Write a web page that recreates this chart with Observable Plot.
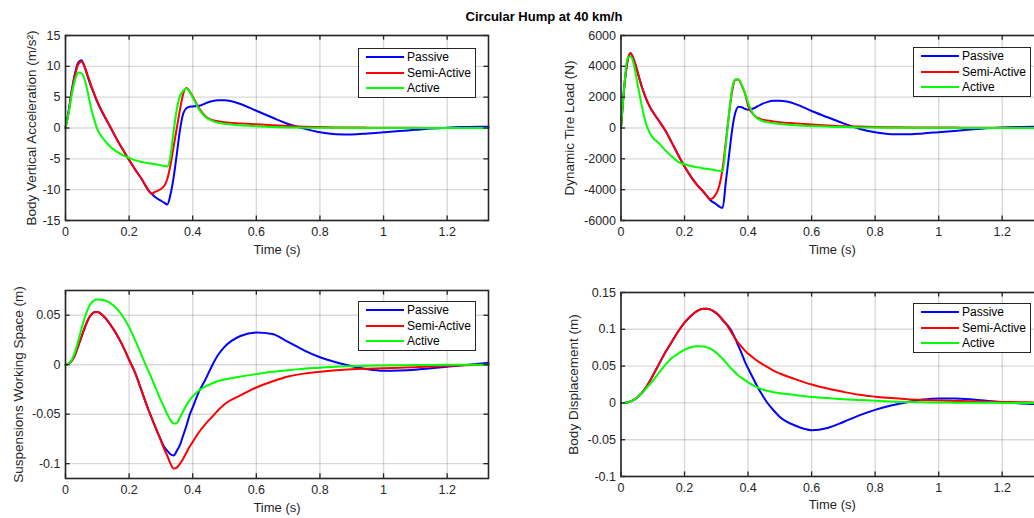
<!DOCTYPE html>
<html>
<head>
<meta charset="utf-8">
<script src="https://cdn.jsdelivr.net/npm/d3@7"></script>
<script src="https://cdn.jsdelivr.net/npm/@observablehq/plot@0.6"></script>
<style>
html, body { margin: 0; padding: 0; background: #fff; overflow: hidden; width: 1034px; height: 518px; }
#page { position: relative; width: 1034px; height: 518px; font-family: "Liberation Sans", Arial, Helvetica, sans-serif; overflow: hidden; }
.panel { position: absolute; }
.panel svg { display: block; overflow: visible; max-width: none !important; }
.title { position: absolute; left: 394px; width: 300px; top: 9px; text-align: center; font-weight: bold; font-size: 13px; line-height: 16px; color: #000; }
.legend { position: absolute; background: #fff; border: 1.5px solid #262626; box-sizing: border-box; width: 118px; height: 50px; padding-top: 0.5px; }
.legend .row { display: flex; align-items: center; height: 15.5px; font-size: 12px; color: #000; white-space: nowrap; }
.legend .swatch { display: inline-block; width: 38px; height: 2px; margin-left: 7px; margin-right: 3px; }
</style>
</head>
<body>
<div id="page">
  <div class="title">Circular Hump at 40 km/h</div>
</div>
<script>
// ---------------- data ----------------
const seriesNames = ["Passive", "Semi-Active", "Active"];
const seriesColors = ["#0000ff", "#ff0000", "#00ff00"];

const xTicks = [0, 0.2, 0.4, 0.6, 0.8, 1, 1.2];
const xDomain = [0, 1.33];

const time = [0, 0.01, 0.02, 0.03, 0.04, 0.05, 0.06, 0.07, 0.08, 0.09, 0.10,
  0.12, 0.14, 0.16, 0.18, 0.20, 0.22, 0.24, 0.26, 0.27, 0.28,
  0.30, 0.31, 0.32, 0.33, 0.34, 0.35, 0.36, 0.37, 0.38, 0.39, 0.40,
  0.42, 0.44, 0.46, 0.48, 0.50,
  0.55, 0.60, 0.65, 0.70, 0.75, 0.80, 0.85, 0.90, 0.95, 1.00, 1.05, 1.10, 1.15, 1.20, 1.25, 1.30, 1.33];

// Body vertical acceleration (m/s^2)
const accPassive = [0, 2.8, 6.2, 8.9, 10.6, 11.0, 9.9, 8.3, 6.8, 5.5, 4.2,
  2.1, 0.2, -1.7, -3.5, -5.2, -6.8, -8.3, -10.1, -10.6, -11.1,
  -11.8, -12.1, -12.4, -10.8, -8.0, -4.2, -0.3, 2.3, 3.2, 3.45, 3.5,
  3.6, 4.0, 4.35, 4.5, 4.5,
  3.9, 2.8, 1.7, 0.65, -0.1, -0.7, -1.0, -1.05, -0.9, -0.7, -0.5, -0.3, -0.1, 0.05, 0.15, 0.2, 0.2];
const accSemi = [0, 2.6, 6.0, 8.6, 10.3, 10.8, 10.0, 8.5, 7.0, 5.6, 4.3,
  2.2, 0.3, -1.7, -3.5, -5.2, -6.8, -8.3, -10.0, -10.7, -10.4,
  -9.9, -9.4, -8.3, -6.0, -3.0, 0.0, 3.0, 5.5, 6.5, 6.0, 5.1,
  3.2, 1.9, 1.3, 1.1, 0.95,
  0.75, 0.6, 0.45, 0.32, 0.22, 0.15, 0.1, 0.08, 0.06, 0.05, 0.04, 0.03, 0.02, 0.02, 0.01, 0.01, 0.01];
const accActive = [0, 2.5, 5.5, 7.8, 9.0, 8.9, 7.9, 5.8, 3.3, 1.4, -0.2,
  -1.8, -3.0, -3.8, -4.4, -4.85, -5.25, -5.5, -5.7, -5.75, -5.85,
  -6.05, -6.15, -6.25, -4.6, -0.5, 3.0, 5.2, 6.0, 6.4, 5.9, 5.0,
  3.0, 1.8, 1.2, 0.85, 0.7,
  0.45, 0.3, 0.18, 0.1, 0.06, 0.04, 0.03, 0.02, 0.01, 0.01, 0, 0, 0, 0, 0, 0, 0];

// Dynamic tire load (N)
const tirePassive = [0, 2600, 4300, 4850, 4450, 3800, 3050, 2400, 1850, 1400, 1050,
  450, -180, -950, -1750, -2500, -3150, -3700, -4150, -4400, -4650,
  -4950, -5100, -5180, -3500, -1800, -100, 1000, 1380, 1350, 1250, 1180,
  1300, 1520, 1680, 1760, 1760,
  1550, 1100, 700, 300, -50, -280, -400, -410, -350, -270, -190, -100, -20, 30, 60, 80, 80];
const tireSemi = [0, 2600, 4300, 4850, 4450, 3800, 3050, 2400, 1850, 1400, 1050,
  450, -180, -950, -1750, -2500, -3150, -3700, -4150, -4400, -4620,
  -4250, -3700, -2600, -900, 900, 2400, 3130, 3150, 2750, 2250, 1450,
  820, 580, 490, 430, 380,
  300, 230, 170, 120, 90, 70, 50, 40, 35, 30, 25, 20, 15, 12, 10, 8, 8];
const tireActive = [0, 2600, 4500, 4650, 4150, 3100, 2000, 1000, 200, -300, -620,
  -1000, -1450, -1850, -2200, -2350, -2470, -2550, -2620, -2650, -2680,
  -2750, -2790, -2810, -1100, 900, 2600, 3150, 3150, 2800, 2300, 1650,
  800, 500, 380, 310, 260,
  180, 130, 90, 60, 40, 25, 15, 10, 5, 0, 0, 0, 0, 0, 0, 0, 0];

// Suspension working space (m)
const suspPassive = [0, 0.001, 0.004, 0.010, 0.019, 0.028, 0.037, 0.045, 0.050, 0.053, 0.0532,
  0.049, 0.041, 0.031, 0.019, 0.005, -0.009, -0.027, -0.045, -0.053, -0.061,
  -0.076, -0.083, -0.087, -0.0905, -0.0917, -0.087, -0.081, -0.0715, -0.062, -0.051, -0.043,
  -0.027, -0.015, -0.0015, 0.010, 0.018,
  0.029, 0.0325, 0.031, 0.023, 0.0145, 0.0075, 0.0025, -0.0015, -0.0045, -0.006, -0.0058, -0.005, -0.0035, -0.002, -0.0005, 0.001, 0.002];
const suspSemi = [0, 0.001, 0.004, 0.010, 0.019, 0.028, 0.037, 0.045, 0.050, 0.053, 0.0532,
  0.049, 0.041, 0.031, 0.019, 0.005, -0.009, -0.027, -0.045, -0.053, -0.061,
  -0.077, -0.085, -0.092, -0.100, -0.105, -0.104, -0.100, -0.095, -0.089, -0.083, -0.078,
  -0.068, -0.060, -0.053, -0.046, -0.040,
  -0.031, -0.023, -0.017, -0.012, -0.009, -0.007, -0.0055, -0.0045, -0.004, -0.0035, -0.003, -0.0025, -0.0018, -0.0012, -0.0006, -0.0002, 0];
const suspActive = [0, 0.001, 0.005, 0.013, 0.024, 0.036, 0.047, 0.056, 0.062, 0.065, 0.066,
  0.0655, 0.0625, 0.057, 0.049, 0.038, 0.024, 0.009, -0.006, -0.013, -0.021,
  -0.036, -0.043, -0.050, -0.056, -0.0595, -0.059, -0.053, -0.047, -0.041, -0.036, -0.032,
  -0.026, -0.022, -0.019, -0.0165, -0.015,
  -0.012, -0.0095, -0.0072, -0.0055, -0.004, -0.003, -0.002, -0.0015, -0.001, -0.0007, -0.0005, -0.0003, -0.0002, -0.0001, 0, 0, 0];

// Body displacement (m)
const dispPassive = [0, 0, 0.0005, 0.002, 0.004, 0.007, 0.011, 0.016, 0.022, 0.029, 0.037,
  0.053, 0.069, 0.083, 0.097, 0.109, 0.118, 0.125, 0.128, 0.128, 0.127,
  0.122, 0.118, 0.112, 0.108, 0.103, 0.096, 0.087, 0.077, 0.067, 0.056, 0.047,
  0.030, 0.014, 0.0005, -0.010, -0.019,
  -0.031, -0.037, -0.034, -0.026, -0.017, -0.0095, -0.0035, 0.001, 0.0045, 0.006, 0.006, 0.005, 0.003, 0.001, -0.0005, -0.0015, -0.002];
const dispSemi = [0, 0, 0.0005, 0.002, 0.004, 0.007, 0.011, 0.016, 0.022, 0.029, 0.037,
  0.053, 0.069, 0.083, 0.097, 0.109, 0.118, 0.125, 0.128, 0.128, 0.127,
  0.122, 0.118, 0.113, 0.108, 0.101, 0.094, 0.087, 0.081, 0.076, 0.071, 0.067,
  0.060, 0.054, 0.049, 0.044, 0.040,
  0.032, 0.025, 0.0195, 0.015, 0.011, 0.0085, 0.0065, 0.005, 0.004, 0.0033, 0.0027, 0.0022, 0.0017, 0.0013, 0.001, 0.0007, 0.0005];
const dispActive = [0, 0, 0.0005, 0.002, 0.004, 0.007, 0.011, 0.015, 0.020, 0.025, 0.030,
  0.041, 0.052, 0.061, 0.067, 0.072, 0.0755, 0.077, 0.0765, 0.0755, 0.074,
  0.068, 0.064, 0.060, 0.055, 0.050, 0.0455, 0.041, 0.037, 0.034, 0.031, 0.028,
  0.023, 0.019, 0.0165, 0.0145, 0.013,
  0.0105, 0.008, 0.0065, 0.005, 0.004, 0.003, 0.002, 0.0013, 0.0008, 0.0005, 0.0003, 0.0002, 0.0001, 0, 0, 0, 0];

const accTicks = [-15, -10, -5, 0, 5, 10, 15];
const tireTicks = [-6000, -4000, -2000, 0, 2000, 4000, 6000];
const suspTicks = [-0.1, -0.05, 0, 0.05];
const dispTicks = [-0.1, -0.05, 0, 0.05, 0.1, 0.15];

// ---------------- drawing ----------------
const fmt = d => String(d);
const font = '"Liberation Sans", Arial, Helvetica, sans-serif';
const page = document.getElementById("page");

function panel(cfg) {
  const data = cfg.values.flatMap((vals, k) => time.map((t, i) => ({t, v: vals[i], name: seriesNames[k]})));
  const [x0, x1] = xDomain;
  const [y0, y1] = cfg.yDomain;
  const tx = (x1 - x0) * 0.011;
  const ty = (y1 - y0) * 0.025;
  const svg = Plot.plot({
    width: cfg.width, height: cfg.height,
    marginLeft: cfg.mL, marginRight: cfg.mR, marginTop: cfg.mT, marginBottom: cfg.mB,
    style: {fontFamily: font, fontSize: "12.5px", color: "#262626", background: "transparent", overflow: "visible", maxWidth: "none"},
    x: {domain: xDomain},
    y: {domain: cfg.yDomain},
    color: {domain: seriesNames, range: seriesColors},
    marks: [
      Plot.gridX(xTicks, {stroke: "#000", strokeOpacity: 0.15, strokeWidth: 1.4}),
      Plot.gridY(cfg.yTicks, {stroke: "#000", strokeOpacity: 0.15, strokeWidth: 1.4}),
      Plot.line(data, {x: "t", y: "v", z: "name", stroke: "name", strokeWidth: 2, curve: "monotone-x"}),
      Plot.ruleX(xTicks, {x: d => d, y1: y0, y2: y0 + ty, stroke: "#262626", strokeWidth: 1.3}),
      Plot.ruleX(xTicks, {x: d => d, y1: y1, y2: y1 - ty, stroke: "#262626", strokeWidth: 1.3}),
      Plot.ruleY(cfg.yTicks, {y: d => d, x1: x0, x2: x0 + tx, stroke: "#262626", strokeWidth: 1.3}),
      Plot.ruleY(cfg.yTicks, {y: d => d, x1: x1, x2: x1 - tx, stroke: "#262626", strokeWidth: 1.3}),
      Plot.frame({stroke: "#262626", strokeWidth: 1.6}),
      Plot.axisX(xTicks, {tickSize: 0, tickPadding: 7, tickFormat: fmt, label: null, fontSize: 12.5}),
      Plot.axisY(cfg.yTicks, {tickSize: 0, tickPadding: 5, tickFormat: fmt, label: null, fontSize: 12.5}),
      Plot.text([cfg.yLabel], {frameAnchor: "left", textAnchor: "middle", rotate: -90, dx: cfg.yLabelDx, fontSize: 13.5, fill: "#262626"}),
      Plot.text(["Time (s)"], {frameAnchor: "bottom", textAnchor: "middle", dy: cfg.xLabelDy, fontSize: 13, fill: "#262626"})
    ]
  });
  const div = document.createElement("div");
  div.className = "panel";
  div.style.left = cfg.left + "px";
  div.style.top = cfg.top + "px";
  div.style.width = cfg.width + "px";
  div.style.height = cfg.height + "px";
  div.appendChild(svg);
  const lg = document.createElement("div");
  lg.className = "legend";
  lg.style.left = cfg.legend[0] + "px";
  lg.style.top = cfg.legend[1] + "px";
  seriesNames.forEach((n, k) => {
    const row = document.createElement("div");
    row.className = "row";
    const sw = document.createElement("span");
    sw.className = "swatch";
    sw.style.background = seriesColors[k];
    const tx2 = document.createElement("span");
    tx2.textContent = n;
    row.appendChild(sw);
    row.appendChild(tx2);
    lg.appendChild(row);
  });
  div.appendChild(lg);
  page.appendChild(div);
}

panel({left: 0, top: 0, width: 520, height: 260, mL: 65, mR: 32, mT: 35, mB: 40,
  yDomain: [-15, 15], yTicks: accTicks, yLabel: "Body Vertical Acceleration (m/s²)", yLabelDx: -34, xLabelDy: 33,
  values: [accPassive, accSemi, accActive], legend: [358, 48]});

panel({left: 520, top: 0, width: 540, height: 260, mL: 100.5, mR: 17, mT: 35, mB: 40,
  yDomain: [-6000, 6000], yTicks: tireTicks, yLabel: "Dynamic Tire Load (N)", yLabelDx: -51.5, xLabelDy: 33,
  values: [tirePassive, tireSemi, tireActive], legend: [393, 47]});

panel({left: 0, top: 260, width: 520, height: 258, mL: 65, mR: 32, mT: 30, mB: 40,
  yDomain: [-0.115, 0.075], yTicks: suspTicks, yLabel: "Suspensions Working Space (m)", yLabelDx: -47, xLabelDy: 33,
  values: [suspPassive, suspSemi, suspActive], legend: [358, 41]});

panel({left: 520, top: 260, width: 540, height: 258, mL: 100.5, mR: 17, mT: 32, mB: 42,
  yDomain: [-0.1, 0.15], yTicks: dispTicks, yLabel: "Body Displacement (m)", yLabelDx: -47.5, xLabelDy: 32.5,
  values: [dispPassive, dispSemi, dispActive], legend: [393, 43]});
</script>
</body>
</html>
